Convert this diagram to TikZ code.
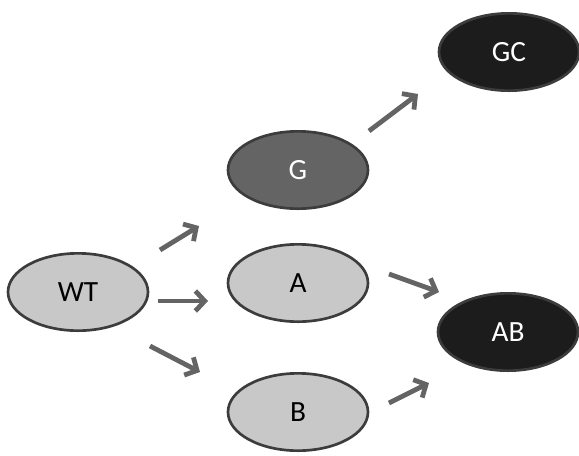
\documentclass[tikz,border=0pt]{standalone}
\usepackage{fontspec}
\setmainfont{Carlito}
\usetikzlibrary{shapes.geometric,arrows.meta}

\begin{document}
\begin{tikzpicture}[x=0.75pt,y=0.75pt,yscale=-1,
  state/.style={ellipse,draw={rgb,255:red,60;green,60;blue,60},line width=2pt,
    minimum width=105pt,minimum height=58pt,inner sep=0pt,
    font=\fontsize{22}{26}\selectfont},
  light/.style={state,fill={rgb,255:red,200;green,200;blue,200}},
  mid/.style={state,fill={rgb,255:red,100;green,100;blue,100},text=white},
  dark/.style={state,fill={rgb,255:red,28;green,28;blue,28},text=white},
  arr/.style={draw={rgb,255:red,100;green,100;blue,100},line width=3.6pt,
    -{Straight Barb[length=7pt,width=15pt]}}]
\path[use as bounding box] (0,0) rectangle (579,455);

% Nodes
\node[light] (WT) at (78,292) {WT};
\node[mid]   (G)  at (298,170) {G};
\node[light] (A)  at (298,283) {A};
\node[light] (B)  at (298,412) {B};
\node[dark]  (GC) at (509,52) {GC};
\node[dark]  (AB) at (508,332) {AB};

% Arrow ends
\coordinate (wtg1) at (160,250);  \coordinate (wtg2) at (199,226);
\coordinate (wta1) at (158,301);  \coordinate (wta2) at (208,301);
\coordinate (wtb1) at (150,346);  \coordinate (wtb2) at (200,372);
\coordinate (ggc1) at (369,131);  \coordinate (ggc2) at (418,94);
\coordinate (aab1) at (389,274);  \coordinate (aab2) at (439,292);
\coordinate (bab1) at (389,403);  \coordinate (bab2) at (429,383);

% Arrows
\draw[arr] (wtg1) -- (wtg2);
\draw[arr] (wta1) -- (wta2);
\draw[arr] (wtb1) -- (wtb2);
\draw[arr] (ggc1) -- (ggc2);
\draw[arr] (aab1) -- (aab2);
\draw[arr] (bab1) -- (bab2);
\end{tikzpicture}
\end{document}
